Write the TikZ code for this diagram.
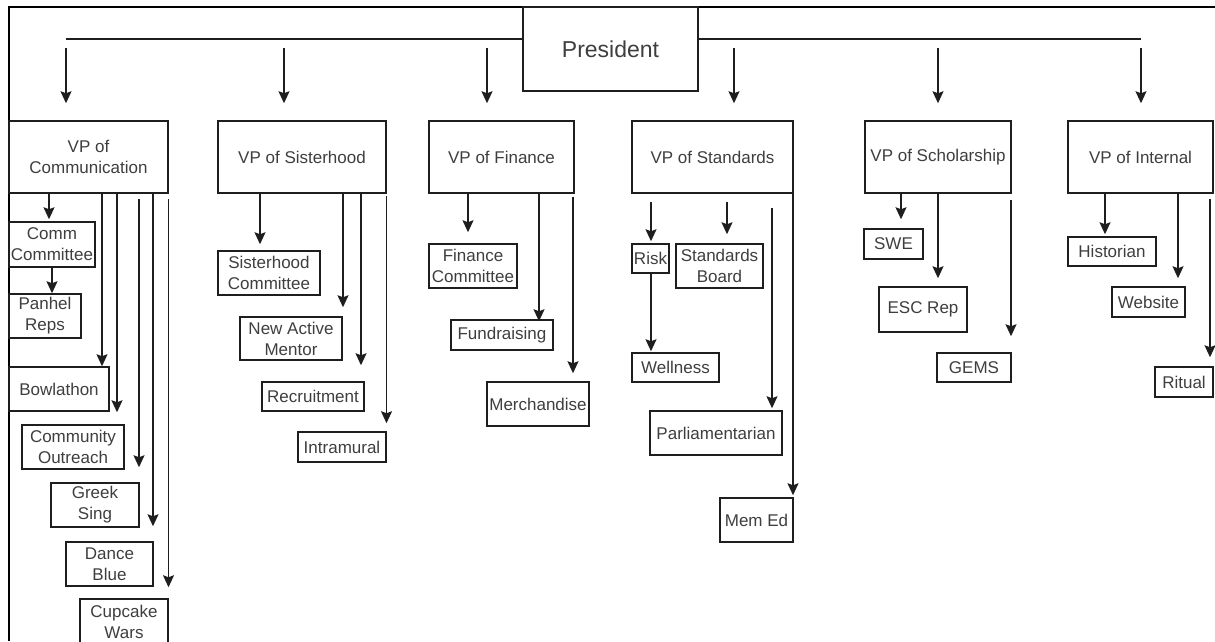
\documentclass[tikz,border=0pt]{standalone}
\usepackage{fontspec}
\setmainfont{Liberation Sans}
\usetikzlibrary{arrows.meta}
\definecolor{linec}{RGB}{30,30,30}
\definecolor{textc}{RGB}{62,62,62}
\newcommand\bx[7][]{\node[box,#1,minimum width={#5-#3},minimum height={#6-#4}] (#2) at ({(#3+#5)/2},{(#4+#6)/2}) {#7};}
\newcommand\lnk[5]{\draw[arr,shorten <=#4pt,shorten >=#5pt] (#1.south -| #3,0) -- (#2.north -| #3,0);}
\begin{document}
\begin{tikzpicture}[x=1pt,y=-1pt,
  box/.style={draw=linec,line width=1.5pt,inner sep=0pt,align=center,text=textc,
    font=\fontsize{17}{21}\selectfont},
  conn/.style={draw=linec,line width=1.5pt},
  arr/.style={conn,-{Stealth[length=12pt,width=11pt,inset=2pt]}},
  frame/.style={draw=black,line width=2.6pt}]
\useasboundingbox (0,0) rectangle (1215,641);
% frame
\coordinate (fr1) at (1215,7);
\coordinate (fr2) at (9,7);
\coordinate (fr3) at (9,641);
\draw[frame] (fr1) -- (fr2) -- (fr3);
% president and VPs
\bx[font=\fontsize{23}{27}\selectfont]{pres}{523}{7}{698}{91}{President}
\bx{comm}{9}{121}{168}{193}{VP of\\Communication}
\bx{sis}{218}{121}{386}{193}{VP of Sisterhood}
\bx{fin}{429}{121}{574}{193}{VP of Finance}
\bx{std}{632}{121}{793}{193}{VP of Standards}
\bx{sch}{865}{121}{1011}{193}{VP of Scholarship}
\bx{int}{1068}{121}{1213}{193}{VP of Internal}
% communication
\bx{cc}{9}{222}{95}{267}{Comm\\Committee}
\bx{pan}{9}{294}{81}{338}{Panhel\\Reps}
\bx{bowl}{9}{367}{109}{411}{Bowlathon}
\bx{co}{22}{425}{124}{469}{Community\\Outreach}
\bx{gs}{51}{483}{139}{527}{Greek\\Sing}
\bx{db}{66}{542}{153}{586}{Dance\\Blue}
\bx{cw}{80}{599}{168}{645}{Cupcake\\Wars}
% sisterhood
\bx{sc}{218}{251}{320}{295}{Sisterhood\\Committee}
\bx{nam}{240}{317}{342}{360}{New Active\\Mentor}
\bx{rec}{262}{382}{364}{411}{Recruitment}
\bx{intr}{298}{432}{386}{462}{Intramural}
% finance
\bx{fc}{429}{244}{517}{288}{Finance\\Committee}
\bx{fund}{451}{320}{553}{350}{Fundraising}
\bx{merch}{487}{382}{589}{426}{Merchandise}
% standards
\bx{risk}{632}{244}{669}{273}{Risk}
\bx{sb}{676}{244}{763}{288}{Standards\\Board}
\bx{well}{632}{353}{719}{382}{Wellness}
\bx{parl}{650}{411}{782}{455}{Parliamentarian}
\bx{mem}{720}{498}{793}{542}{Mem Ed}
% scholarship
\bx{swe}{864}{229}{923}{259}{SWE}
\bx{esc}{879}{287}{967}{332}{ESC Rep}
\bx{gems}{937}{353}{1011}{382}{GEMS}
% internal
\bx{hist}{1068}{237}{1156}{266}{Historian}
\bx{web}{1112}{287}{1185}{317}{Website}
\bx{rit}{1155}{367}{1213}{397}{Ritual}
% top connectors
\coordinate (hl) at (66,39);
\coordinate (hr) at (1141,39);
\draw[conn] (hl) -- (hl -| pres.west);
\draw[conn] (hr -| pres.east) -- (hr);
\coordinate (t1) at (66,48);
\coordinate (t2) at (284,48);
\coordinate (t3) at (487,48);
\coordinate (t4) at (734,48);
\coordinate (t5) at (938,48);
\coordinate (t6) at (1141,48);
\draw[arr,shorten >=17pt] (t1) -- (t1 |- comm.north);
\draw[arr,shorten >=17pt] (t2) -- (t2 |- sis.north);
\draw[arr,shorten >=17pt] (t3) -- (t3 |- fin.north);
\draw[arr,shorten >=17pt] (t4) -- (t4 |- std.north);
\draw[arr,shorten >=17pt] (t5) -- (t5 |- sch.north);
\draw[arr,shorten >=17pt] (t6) -- (t6 |- int.north);
% communication links
\lnk{comm}{cc}{49}{0}{2}
\lnk{cc}{pan}{52}{0}{0}
\lnk{comm}{bowl}{102}{0}{0}
\lnk{comm}{co}{117}{0}{12}
\lnk{comm}{gs}{139}{5}{15}
\lnk{comm}{db}{153}{0}{15}
\lnk{comm}{cw}{168.5}{5}{11}
% sisterhood links
\lnk{sis}{sc}{260}{0}{6}
\lnk{sis}{nam}{343}{0}{9}
\lnk{sis}{rec}{361}{0}{16}
\lnk{sis}{intr}{386.5}{2}{8}
% finance links
\lnk{fin}{fc}{468}{0}{11}
\lnk{fin}{fund}{539}{0}{-2}
\lnk{fin}{merch}{573}{3}{8}
% standards links
\lnk{std}{risk}{651}{8}{2}
\lnk{std}{sb}{727}{8}{9}
\lnk{risk}{well}{651}{0}{1}
\lnk{std}{parl}{772}{14}{2}
\lnk{std}{mem}{793}{0}{2}
% scholarship links
\lnk{sch}{swe}{901}{0}{9}
\lnk{sch}{esc}{938}{0}{8}
\lnk{sch}{gems}{1011}{6}{16}
% internal links
\lnk{int}{hist}{1105}{0}{2}
\lnk{int}{web}{1178}{0}{8}
\lnk{int}{rit}{1210}{5}{9}
\end{tikzpicture}
\end{document}
